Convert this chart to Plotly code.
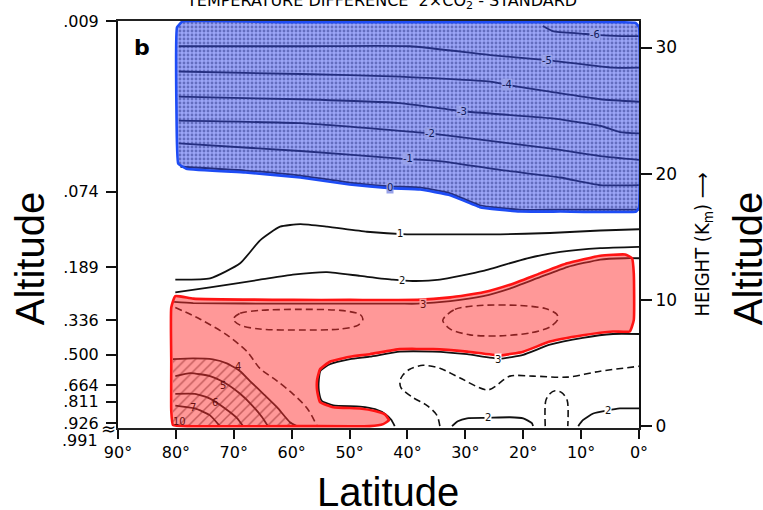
import plotly.graph_objects as go

# ---------------- axes data ----------------
lat_ticks = [90, 80, 70, 60, 50, 40, 30, 20, 10, 0]
lat_tick_text = ["90°", "80°", "70°", "60°", "50°", "40°", "30°", "20°", "10°", "0°"]
sigma_text = [".009", ".074", ".189", ".336", ".500", ".664", ".811", ".926"]
sigma_height = [32.09, 18.57, 12.59, 8.39, 5.67, 3.26, 1.94, 0.23]
km_ticks = [0, 10, 20, 30]

# ---------------- shaded regions (lat deg, height km) ----------------
blue_lat = [78.9, 79.8, 79.9, 79.6, 78.2, 68.0, 58.5, 50.0, 43.0, 37.8, 32.6, 27.5, 20.6, 13.6, 0.5, 0.0, 0.0, 0.6, 20.0, 40.0, 60.0, 78.9]
blue_h = [32.05, 31.6, 25.0, 20.8, 20.4, 20.1, 19.7, 19.15, 18.85, 18.75, 18.3, 17.35, 17.0, 17.0, 17.0, 17.3, 31.6, 31.95, 32.0, 32.0, 32.0, 32.05]

red_lat = [80.1, 80.8, 80.8, 80.8, 80.5, 77.5, 58.5, 46.5, 44.2, 43.2, 43.9, 45.6, 48.2, 52.8, 55.1, 55.6, 55.6, 55.1,
           53.4, 49.9, 46.5, 41.3, 35.6, 29.7, 24.0, 20.0, 15.4, 9.7, 4.5, 1.6, 0.9, 0.9, 1.2, 2.4, 6.7, 12.4, 17.1,
           22.3, 26.9, 32.6, 38.3, 49.9, 59.8, 77.0, 80.1]
red_h = [10.3, 9.4, 5.1, 1.2, 0.08, 0.0, 0.0, 0.0, 0.16, 0.47, 0.93, 1.2, 1.4, 1.5, 1.9, 2.8, 3.7, 4.5,
         5.1, 5.5, 5.7, 6.1, 6.1, 5.9, 5.6, 5.9, 6.7, 7.2, 7.5, 7.5, 8.4, 12.1, 13.3, 13.6, 13.5, 12.9, 12.1,
         11.2, 10.6, 10.2, 10.0, 10.0, 10.0, 10.1, 10.3]

hatch_lat = [80.5, 77.0, 73.6, 71.2, 68.9, 67.2, 64.9, 62.5, 60.3, 59.1, 80.5]
hatch_h = [5.3, 5.36, 5.28, 4.97, 4.35, 3.57, 2.56, 1.48, 0.31, 0.0, 0.0]

# ---------------- contour lines ----------------
c_m6_lat = [16.6, 14.9, 10.0, 7.6, 3.0, 0.0]
c_m6_h = [31.7, 31.3, 31.1, 31.0, 30.9, 30.9]
c_m5_lat = [79.5, 58.5, 39.6, 25.7, 15.9, 4.5, 0.0]
c_m5_h = [30.1, 30.1, 30.1, 29.4, 29.0, 28.4, 28.4]
c_m4_lat = [79.5, 58.5, 41.3, 25.7, 22.3, 15.4, 6.7, 0.0]
c_m4_h = [28.1, 27.9, 27.7, 27.3, 27.0, 26.5, 25.9, 25.7]
c_m3_lat = [79.5, 58.5, 41.3, 30.6, 15.4, 6.7, 3.3, 0.0]
c_m3_h = [26.1, 25.9, 25.6, 24.95, 24.4, 23.8, 23.3, 23.2]
c_m2_lat = [79.5, 58.5, 41.3, 36.1, 25.7, 15.4, 6.7, 0.0]
c_m2_h = [24.2, 24.0, 23.4, 23.2, 22.6, 22.0, 21.4, 21.1]
c_m1_lat = [79.5, 58.5, 41.3, 34.4, 24.0, 13.6, 6.7, 0.0]
c_m1_h = [22.4, 21.8, 21.2, 21.0, 20.3, 19.7, 19.1, 19.1]
c_0_lat = [79.2, 68.0, 58.5, 50.0, 43.0, 37.8, 32.6, 27.5, 20.6, 13.6, 0.0]
c_0_h = [20.55, 20.25, 19.85, 19.3, 19.0, 18.9, 18.45, 17.5, 17.15, 17.15, 17.15]

c_1_lat = [80.1, 74.1, 68.9, 65.5, 62.0, 58.5, 53.9, 47.0, 40.1, 32.6, 24.0, 15.4, 6.7, 0.0]
c_1_h = [11.6, 11.7, 12.9, 14.7, 15.8, 16.0, 15.8, 15.4, 15.2, 15.2, 15.2, 15.3, 15.5, 15.6]
c_2_lat = [80.1, 74.1, 65.5, 59.8, 53.9, 48.2, 42.5, 39.1, 34.4, 26.9, 19.3, 13.6, 6.7, 0.0]
c_2_h = [10.6, 11.0, 11.6, 12.0, 12.2, 11.9, 11.6, 11.5, 11.6, 12.3, 13.3, 13.8, 14.1, 14.2]
c_3top_lat = [80.3, 77.0, 59.8, 49.9, 41.3, 38.3, 32.6, 26.9, 22.3, 17.1, 12.4, 6.7, 2.4, 0.0]
c_3top_h = [9.85, 9.75, 9.7, 9.7, 9.7, 9.7, 9.9, 10.3, 10.9, 11.8, 12.6, 13.2, 13.3, 13.3]
c_3bot_lat = [0.0, 4.5, 9.7, 15.4, 20.0, 24.0, 29.7, 35.6, 41.3, 46.5, 49.9, 53.4, 55.0, 55.3, 55.3, 54.8,
              52.8, 48.2, 45.6, 43.8, 42.8, 42.2]
c_3bot_h = [7.3, 7.3, 7.0, 6.45, 5.65, 5.35, 5.7, 5.9, 5.9, 5.5, 5.3, 4.9, 4.4, 3.7, 2.8, 2.0,
            1.65, 1.55, 1.35, 0.95, 0.5, 0.0]
c_4_lat = [80.5, 77.0, 73.6, 71.2, 68.9, 67.2, 64.9, 62.5, 60.3, 59.1]
c_4_h = [5.3, 5.36, 5.28, 4.97, 4.35, 3.57, 2.56, 1.48, 0.31, 0.0]
c_5_lat = [80.1, 77.5, 74.1, 71.5, 68.9, 66.8, 65.1, 64.1]
c_5_h = [3.96, 4.2, 3.96, 3.42, 2.56, 1.63, 0.7, 0.0]
c_6_lat = [80.1, 76.7, 74.1, 71.5, 69.4, 68.4]
c_6_h = [2.56, 2.56, 2.18, 1.4, 0.62, 0.0]
c_7_lat = [80.1, 76.7, 74.1, 72.4]
c_7_h = [1.63, 1.4, 0.85, 0.0]
c_2a_lat = [32.3, 31.3, 29.7, 26.3, 22.3, 20.0, 18.5, 18.3]
c_2a_h = [0.0, 0.39, 0.62, 0.65, 0.7, 0.62, 0.23, 0.0]
c_2b_lat = [10.5, 9.7, 7.9, 5.5, 3.3, 0.0]
c_2b_h = [0.0, 0.47, 1.0, 1.24, 1.4, 1.4]

# dashed contours
d_diag_lat = [80.1, 75.8, 71.2, 67.7, 65.5, 62.5, 59.8, 57.3, 55.6]
d_diag_h = [9.4, 8.47, 7.23, 5.9, 4.58, 3.57, 2.56, 1.4, 0.0]
d_ell1_lat = [70.1, 68.9, 65.5, 58.5, 51.6, 48.2, 47.7, 48.5, 51.6, 58.5, 65.5, 68.9, 70.1]
d_ell1_h = [8.47, 8.94, 9.17, 9.25, 9.17, 8.86, 8.47, 8.0, 7.69, 7.61, 7.69, 8.0, 8.47]
d_ell2_lat = [33.9, 31.8, 27.5, 20.6, 16.2, 14.2, 14.0, 15.4, 18.8, 24.0, 29.2, 32.6, 33.9]
d_ell2_h = [8.39, 9.25, 9.56, 9.56, 9.32, 8.86, 8.47, 7.85, 7.38, 7.15, 7.23, 7.69, 8.39]
d_a_lat = [34.4, 34.9, 36.6, 39.0, 41.1, 41.3, 40.8, 39.6, 37.3, 34.4, 30.9, 26.1, 22.3, 18.3, 12.4, 6.7, 0.0]
d_a_h = [0.0, 0.85, 1.63, 2.25, 3.03, 3.57, 4.04, 4.51, 4.82, 4.58, 3.81, 2.87, 3.96, 3.96, 3.88, 4.35, 4.74]
d_b_lat = [16.2, 16.1, 15.4, 14.5, 13.3, 12.4, 12.3]
d_b_h = [0.0, 2.02, 2.56, 2.8, 2.64, 2.02, 0.0]

# contour labels: text, lat, height, region
labels = [
    ("-6", 7.6, 31.0, "b"), ("-5", 15.9, 29.0, "b"), ("-4", 22.8, 27.05, "b"),
    ("-3", 30.6, 24.95, "b"), ("-2", 36.1, 23.2, "b"), ("-1", 39.9, 21.2, "b"),
    ("0", 43.0, 18.9, "b"),
    ("1", 41.3, 15.25, "w"), ("2", 41.0, 11.55, "w"),
    ("3", 37.3, 9.65, "r"), ("3", 24.4, 5.3, "w"),
    ("2", 26.1, 0.65, "w"), ("2", 5.4, 1.25, "w"),
    ("4", 69.3, 4.7, "h"), ("5", 71.8, 3.2, "h"), ("6", 73.2, 1.85, "h"),
    ("7", 77.0, 1.5, "h"), ("10", 79.3, 0.35, "h"),
]

FONT = "DejaVu Sans"
fig = go.Figure()

# stipple under the blue overlay
fig.add_trace(go.Scatter(x=blue_lat, y=blue_h, mode="lines", fill="toself",
                         line=dict(width=0, color="rgba(0,0,0,0)", shape="spline", smoothing=0.3),
                         fillcolor="white",
                         fillpattern=dict(shape=".", size=4, solidity=0.4, fgcolor="#202020",
                                          bgcolor="white"),
                         hoverinfo="skip"))
# hatch
fig.add_trace(go.Scatter(x=hatch_lat, y=hatch_h, mode="lines", fill="toself",
                         line=dict(width=0, color="rgba(0,0,0,0)"),
                         fillpattern=dict(shape="/", size=7, solidity=0.22, fgcolor="#111111",
                                          bgcolor="rgba(0,0,0,0)"),
                         hoverinfo="skip"))

solid = [(c_m6_lat, c_m6_h), (c_m5_lat, c_m5_h), (c_m4_lat, c_m4_h), (c_m3_lat, c_m3_h),
         (c_m2_lat, c_m2_h), (c_m1_lat, c_m1_h), (c_0_lat, c_0_h),
         (c_1_lat, c_1_h), (c_2_lat, c_2_h), (c_3top_lat, c_3top_h), (c_3bot_lat, c_3bot_h),
         (c_4_lat, c_4_h), (c_5_lat, c_5_h), (c_6_lat, c_6_h), (c_7_lat, c_7_h),
         (c_2a_lat, c_2a_h), (c_2b_lat, c_2b_h)]
for lx, ly in solid:
    fig.add_trace(go.Scatter(x=lx, y=ly, mode="lines",
                             line=dict(color="#111111", width=1.8, shape="spline", smoothing=0.5),
                             hoverinfo="skip"))

dashed = [(d_diag_lat, d_diag_h), (d_ell1_lat, d_ell1_h), (d_ell2_lat, d_ell2_h),
          (d_a_lat, d_a_h), (d_b_lat, d_b_h)]
for lx, ly in dashed:
    fig.add_trace(go.Scatter(x=lx, y=ly, mode="lines",
                             line=dict(color="#111111", width=1.6, dash="7px,4px", shape="spline", smoothing=0.8),
                             hoverinfo="skip"))

# red overlay
fig.add_trace(go.Scatter(x=red_lat, y=red_h, mode="lines", fill="toself",
                         fillcolor="rgba(255,50,50,0.5)",
                         line=dict(color="#ff1414", width=2.6, shape="spline", smoothing=0.4),
                         hoverinfo="skip"))
# blue overlay
fig.add_trace(go.Scatter(x=blue_lat, y=blue_h, mode="lines", fill="toself",
                         fillcolor="rgba(55,75,240,0.5)",
                         line=dict(color="#1e4cf5", width=2.6, shape="spline", smoothing=0.3),
                         hoverinfo="skip"))
# dummy trace for the right axis
fig.add_trace(go.Scatter(x=[None], y=[None], yaxis="y2", mode="lines", hoverinfo="skip"))

styles = {
    "b": dict(color="#101a5a", bg="#97a1ea"),
    "w": dict(color="#111111", bg="white"),
    "r": dict(color="#6a1010", bg="#fb9a9a"),
    "h": dict(color="#6a1010", bg="rgba(0,0,0,0)"),
}
ann = []
for txt, la, hh, reg in labels:
    st = styles[reg]
    ann.append(dict(x=la, y=hh, xref="x", yref="y", text=txt, showarrow=False,
                    font=dict(family=FONT, size=10, color=st["color"]), bgcolor=st["bg"],
                    borderpad=0, xanchor="center", yanchor="middle"))

ann += [
    dict(x=-0.169, y=0.417, xref="paper", yref="paper", text="Altitude", textangle=-90,
         showarrow=False, font=dict(family="Liberation Sans", size=40, color="black"),
         xanchor="center", yanchor="middle"),
    dict(x=1.209, y=0.417, xref="paper", yref="paper", text="Altitude", textangle=-90,
         showarrow=False, font=dict(family="Liberation Sans", size=40, color="black"),
         xanchor="center", yanchor="middle"),
    dict(x=0.518, y=-0.157, xref="paper", yref="paper", text="Latitude",
         showarrow=False, font=dict(family="Liberation Sans", size=40, color="black"),
         xanchor="center", yanchor="middle"),
    dict(x=1.123, y=0.451, xref="paper", yref="paper", text="HEIGHT (K<sub>m</sub>) \u27f6", textangle=-90,
         showarrow=False, font=dict(family="DejaVu Sans Condensed, DejaVu Sans", size=20, color="black"),
         xanchor="center", yanchor="middle"),
    dict(x=0.505, y=1.017, xref="paper", yref="paper",
         text="TEMPERATURE DIFFERENCE  2\u00d7CO<sub>2</sub> - STANDARD",
         showarrow=False, font=dict(family=FONT, size=16, color="black"),
         xanchor="center", yanchor="bottom"),
    dict(x=0.046, y=0.935, xref="paper", yref="paper", text="<b>b</b>",
         showarrow=False, font=dict(family=FONT, size=22, color="black"),
         xanchor="center", yanchor="middle"),
    dict(x=-0.034, y=-0.031, xref="paper", yref="paper", text=".991",
         showarrow=False, font=dict(family=FONT, size=16, color="black"),
         xanchor="right", yanchor="middle"),
    dict(x=-0.019, y=0.0, xref="paper", yref="paper", text="\u2248",
         showarrow=False, font=dict(family=FONT, size=18, color="black"),
         xanchor="center", yanchor="middle"),
]

fig.update_layout(
    width=763, height=510,
    margin=dict(l=118, r=124, t=13, b=82),
    plot_bgcolor="white", paper_bgcolor="white",
    showlegend=False,
    font=dict(family=FONT, size=16, color="black"),
    xaxis=dict(range=[90, 0], tickvals=lat_ticks, ticktext=lat_tick_text, ticks="outside",
               ticklen=9, tickwidth=1.5, tickcolor="#111", showline=True, linecolor="#222",
               linewidth=2, mirror=True, showgrid=False, zeroline=False,
               tickfont=dict(family=FONT, size=16, color="black")),
    yaxis=dict(range=[-0.15, 32.1], tickvals=sigma_height, ticktext=sigma_text, ticks="outside",
               ticklen=10, tickwidth=1.5, tickcolor="#111", showline=True, linecolor="#111",
               linewidth=2, mirror=True, showgrid=False, zeroline=False, ticklabelstandoff=4,
               tickfont=dict(family=FONT, size=16, color="black")),
    yaxis2=dict(range=[-0.15, 32.1], overlaying="y", side="right", tickvals=km_ticks,
                ticks="outside", ticklen=12, tickwidth=1.5, tickcolor="#111", showline=False,
                showgrid=False, zeroline=False,
                tickfont=dict(family=FONT, size=17, color="black")),
    annotations=ann,
)

fig.write_html("out.html")
